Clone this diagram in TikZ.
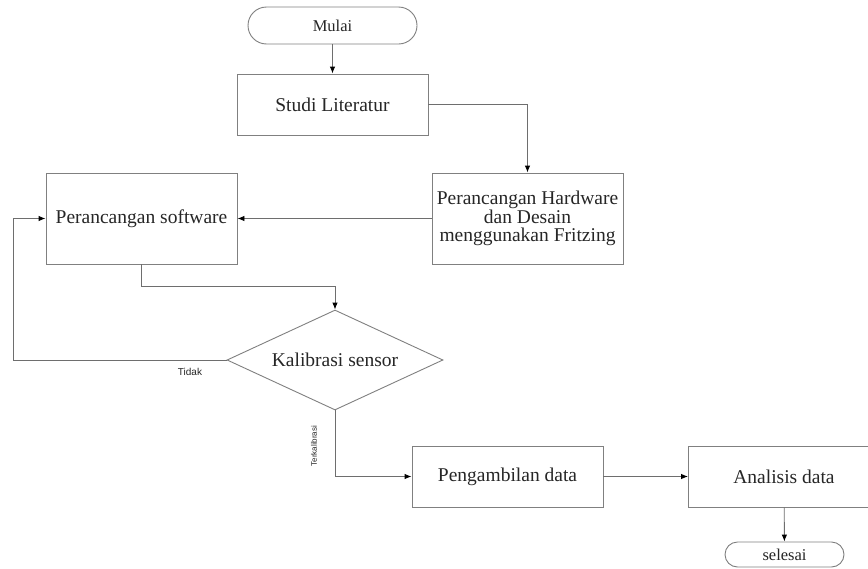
\documentclass[tikz,border=0pt]{standalone}
\usepackage{fontspec}
\setmainfont{Liberation Serif}
\newfontfamily\labelfont{Liberation Sans}
\usepackage{xcolor}
\definecolor{boxgray}{RGB}{128,128,128}
\definecolor{linegray}{RGB}{110,110,110}
\usetikzlibrary{shapes.geometric, arrows.meta, positioning, calc}

\begin{document}
\begin{tikzpicture}[
    x=1pt, y=-1pt,
    every node/.style={font=\fontsize{19.5}{18.5}\selectfont, text=black!85},
    term/.style={rectangle, rounded corners=18.5pt, draw=boxgray, line width=0.9pt, minimum width=169pt, minimum height=37pt, inner sep=0pt, font=\fontsize{16.5}{18}\selectfont},
    proc/.style={rectangle, draw=boxgray, line width=0.9pt, minimum width=191pt, minimum height=61pt, inner sep=0pt, align=center},
    decide/.style={diamond, aspect=2.16, draw=boxgray, line width=0.9pt, minimum width=216pt, minimum height=100pt, inner sep=0pt},
    lbl/.style={font=\labelfont\fontsize{10}{11}\selectfont, inner sep=0pt},
    flow/.style={draw=linegray, line width=0.9pt, -{Latex[length=7pt, width=5.5pt, color=black]}}
]
\useasboundingbox (0,0) rectangle (868,568);
\clip (0,0) rectangle (868,568);
\fill[white] (0,0) rectangle (868,568);

% steps
\node[term] (mulai) at (332.5,25.5) {Mulai};
\node[proc] (studi) at (332.5,104.5) {Studi Literatur};
\node[proc, minimum height=91pt] (hardware) at (527.5,218.5) {Perancangan Hardware\\dan Desain\\menggunakan Fritzing};
\node[proc, minimum height=91pt] (software) at (141.5,218.5) {Perancangan software};
\node[decide] (kalibrasi) at (335,360) {Kalibrasi sensor};
\node[proc] (ambil) at (507.5,476.5) {Pengambilan data};
\node[proc] (analisis) at (784,476.5) {Analisis data};
\node[term, minimum width=119pt, minimum height=25pt, rounded corners=12.5pt] (selesai) at (784.5,554.5) {selesai};

% branch labels
\node[lbl] (tidak) at (190,372) {Tidak};
\node[lbl, rotate=90, font=\labelfont\fontsize{8}{9}\selectfont] (terkal) at (314,446) {Terkalibrasi};

% connectors
\draw[flow] (mulai) -- (studi);
\draw[flow] (studi.east) -| (hardware.north);
\draw[flow] (hardware) -- (software);
\draw[flow] (software.south) -- ++(0,22) -| (kalibrasi.north);
\draw[flow] (kalibrasi.west) -- ++(-213,0) |- (software.west);
\draw[flow] (kalibrasi.south) |- (ambil.west);
\draw[flow] (ambil) -- (analisis);
\draw[flow] (analisis) -- (selesai);
\end{tikzpicture}
\end{document}
